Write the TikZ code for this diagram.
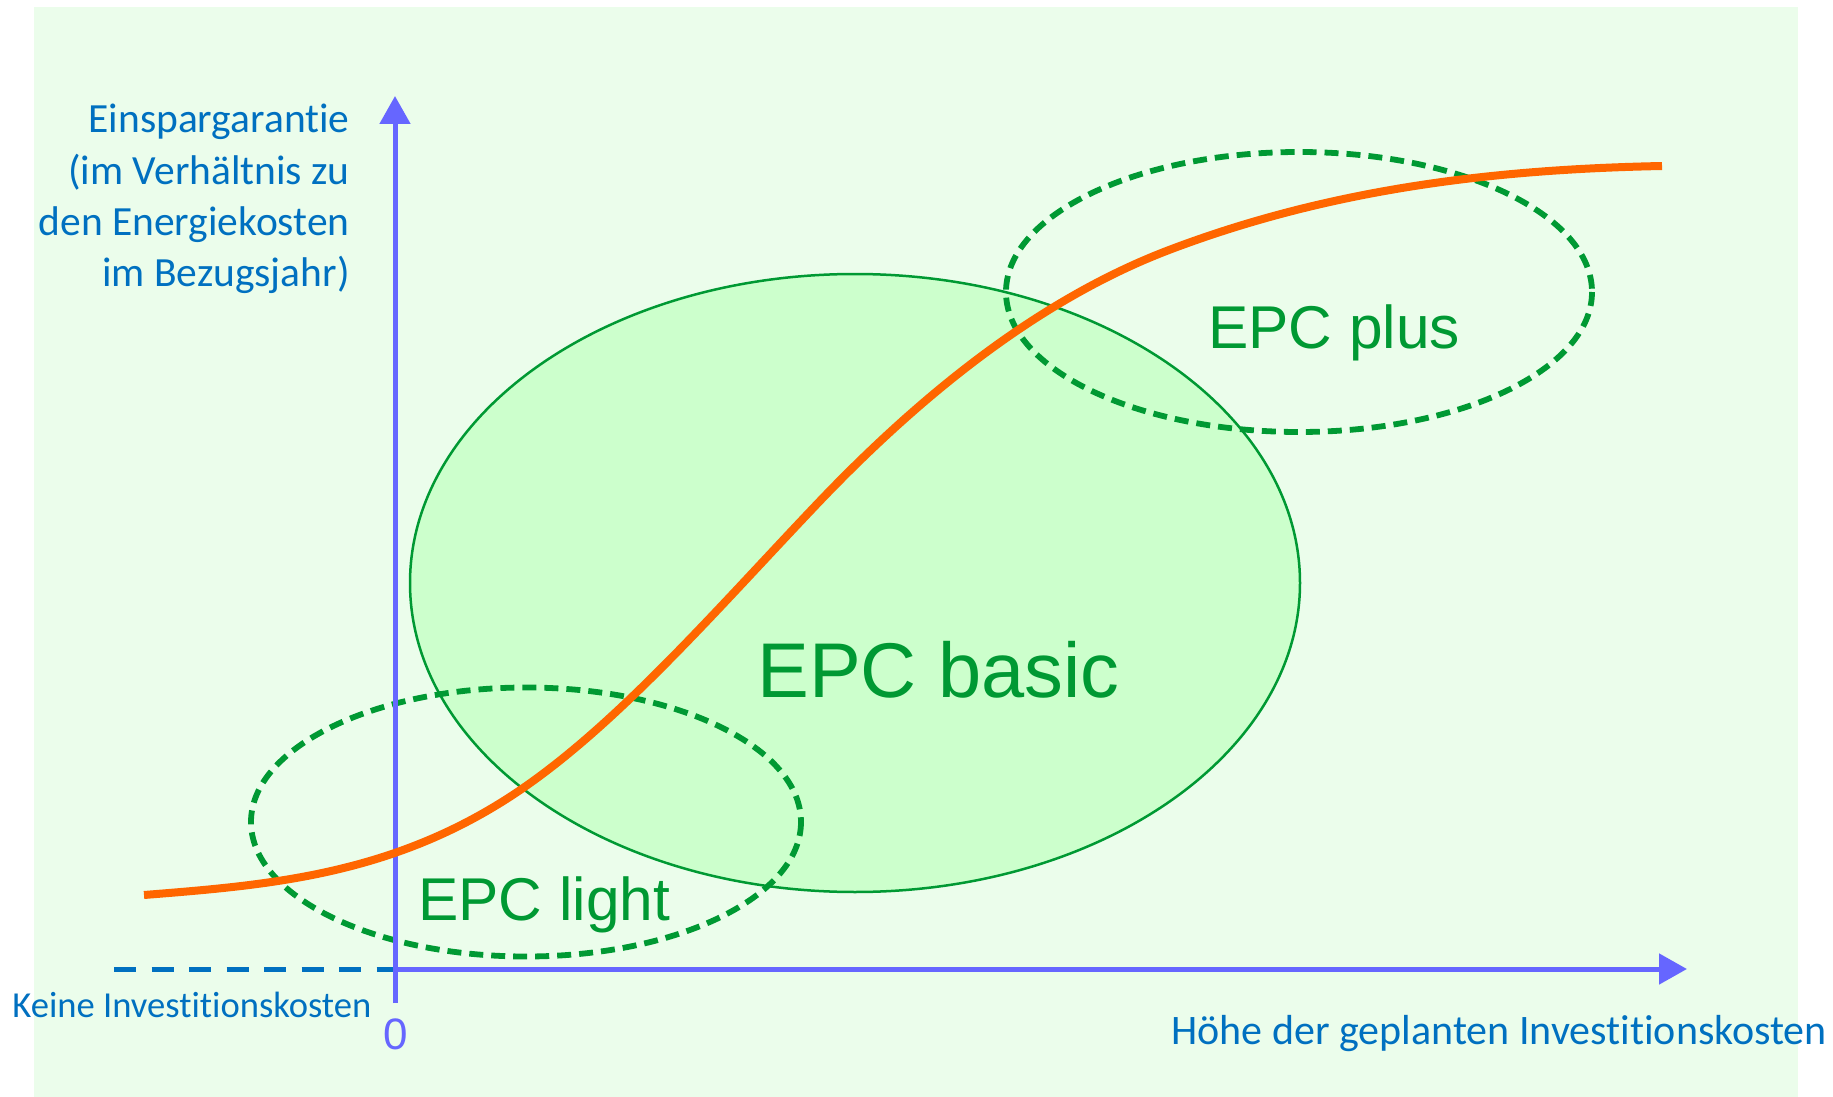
\documentclass[tikz,border=0pt]{standalone}
\usepackage{fontspec}
\setmainfont{Carlito}[Ligatures=NoCommon]
\newfontfamily\arialfont{Liberation Sans}
\usetikzlibrary{arrows.meta}
\definecolor{bgc}{RGB}{235,253,235}
\definecolor{fillc}{RGB}{204,255,204}
\definecolor{epcgreen}{RGB}{0,153,51}
\definecolor{axisc}{RGB}{102,102,255}
\definecolor{txtblue}{RGB}{0,112,192}
\definecolor{curvec}{RGB}{255,102,0}
\begin{document}
\begin{tikzpicture}[x=0.5pt,y=-0.5pt,
  axisline/.style={draw=axisc, line width=2.5pt},
  axisarrow/.style={-{Triangle[length=14pt,width=15pt]}},
  zeroline/.style={draw=txtblue, line width=2.5pt, dash pattern=on 11pt off 7.75pt},
  dashell/.style={draw=epcgreen, line width=2.9pt, dash pattern=on 7pt off 4pt},
  solidell/.style={draw=epcgreen, fill=fillc, line width=1.25pt},
  curve/.style={draw=curvec, line width=4pt},
  bluetext/.style={text=txtblue, inner sep=0pt, font=\fontsize{20.75pt}{25.65pt}\selectfont},
  epclabel/.style={text=epcgreen, inner sep=0pt, anchor=base west},
]
\useasboundingbox (0,0) rectangle (1833,1097);
\fill[white] (0,0) rectangle (1833,1097);
\fill[bgc] (34,7) rectangle (1798,1097);

% ellipses
\path[solidell] (855,583) ellipse [x radius=445, y radius=309];
\path[dashell] (526,822) ellipse [x radius=275, y radius=134.5];
\path[dashell] (1299,292) ellipse [x radius=293, y radius=140];

% axes
\coordinate (O) at (395,969);
\coordinate (ytop) at (395,96);
\coordinate (ybot) at (395,1003);
\coordinate (xend) at (1687,969);
\coordinate (dstart) at (114,969);
\draw[zeroline] (dstart) -- (O);
\draw[axisline, axisarrow] (ybot) -- (ytop);
\draw[axisline, axisarrow] (O) -- (xend);

% curve
\coordinate (c0) at (144,895);
\coordinate (c1) at (526,786);
\coordinate (c2) at (818,503);
\coordinate (c3) at (1169,250);
\coordinate (c4) at (1662,166);
\draw[curve] (c0) .. controls (271.3,884.8) and (398.7,875.1) .. (c1)
  .. controls (623.3,717.9) and (720.7,605.2) .. (c2)
  .. controls (935,380.2) and (1052,294.5) .. (c3)
  .. controls (1333.3,187.6) and (1497.7,169.3) .. (c4);

% labels
\node[epclabel, font=\arialfont\fontsize{38.8pt}{40pt}\selectfont] (basic) at (757,697) {EPC basic};
\node[epclabel, font=\arialfont\fontsize{30.2pt}{32pt}\selectfont] (light) at (418,920) {EPC light};
\node[epclabel, font=\arialfont\fontsize{30.2pt}{32pt}\selectfont] (plus) at (1208,348) {EPC plus};

\node[bluetext, anchor=north east, align=right] (ylabel) at (350,104) {Einspargarantie\\(im Verhältnis zu\\den Energiekosten\\im Bezugsjahr)};
\node[bluetext, anchor=base west, font=\fontsize{18.3pt}{20pt}\selectfont] (keine) at (12,1017) {Keine Investitionskosten};
\node[bluetext, anchor=base west, font=\fontsize{21pt}{24pt}\selectfont] (xlabel) at (1171,1044) {Höhe der geplanten Investitionskosten};
\node[text=axisc, inner sep=0pt, anchor=base, font=\arialfont\fontsize{22pt}{24pt}\selectfont] (zero) at (396,1049) {0};
\end{tikzpicture}
\end{document}
